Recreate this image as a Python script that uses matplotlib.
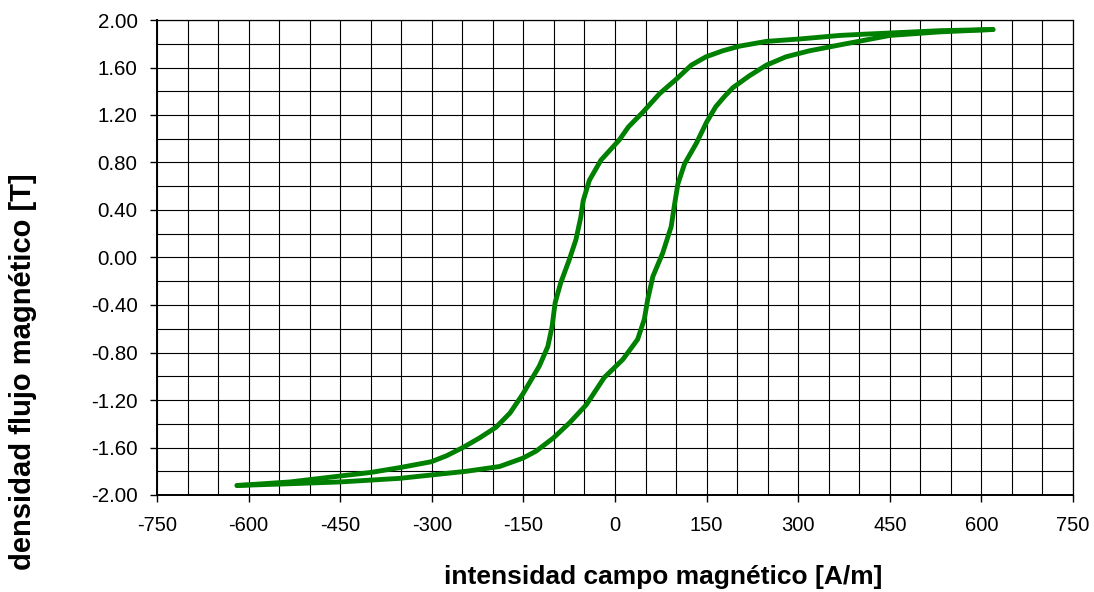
import numpy as np
import matplotlib.pyplot as plt
from matplotlib.ticker import MultipleLocator, FormatStrFormatter

# ===================== datos =====================
# rama descendente (curva izquierda), de +Bmax a -Bmax
H_desc = [619, 532, 406, 368, 302, 248, 204, 176, 149, 125, 100, 73, 45, 22,
          7, -23, -42, -52, -56, -64, -75, -89, -98, -103, -110, -124, -151,
          -172, -195, -222, -249, -276, -301, -353, -400, -450, -532, -619]
B_desc = [1.92, 1.91, 1.88, 1.87, 1.84, 1.82, 1.78, 1.74, 1.69, 1.62, 1.50,
          1.38, 1.22, 1.10, 0.99, 0.82, 0.65, 0.48, 0.34, 0.15, -0.02, -0.215,
          -0.38, -0.58, -0.75, -0.915, -1.15, -1.31, -1.43, -1.52, -1.60,
          -1.67, -1.72, -1.77, -1.81, -1.84, -1.89, -1.92]

# rama ascendente (curva derecha), de -Bmax a +Bmax
H_asc = [-619, -532, -450, -353, -298, -243, -189, -151, -129, -101, -74, -47,
         -17.5, 12.6, 37, 48, 53.5, 62, 78, 92, 97, 103, 114, 133, 150, 165,
         180, 193, 220, 248, 280, 318, 368, 450, 532, 619]
B_asc = [-1.92, -1.905, -1.89, -1.86, -1.83, -1.80, -1.76, -1.69, -1.63, -1.52,
         -1.39, -1.24, -1.01, -0.86, -0.69, -0.52, -0.355, -0.16, 0.036, 0.26,
         0.43, 0.62, 0.79, 0.96, 1.14, 1.27, 1.36, 1.43, 1.53, 1.62, 1.69,
         1.74, 1.79, 1.87, 1.90, 1.92]

X_LABEL = "intensidad campo magnético [A/m]"
Y_LABEL = "densidad flujo magnético [T]"

plt.rcParams['font.family'] = ['Liberation Sans', 'DejaVu Sans']
plt.rcParams['axes.unicode_minus'] = False

fig = plt.figure(figsize=(10.94, 5.92), dpi=100)
ax = fig.add_axes([157 / 1094, 97 / 592, (1073 - 157) / 1094, (495 - 20) / 592])

ax.plot(H_desc, B_desc, color='#008000', lw=3.5, solid_capstyle='round',
        solid_joinstyle='round', zorder=3)
ax.plot(H_asc, B_asc, color='#008000', lw=3.5, solid_capstyle='round',
        solid_joinstyle='round', zorder=3)

ax.set_xlim(-750, 750)
ax.set_ylim(-2.0, 2.0)
ax.xaxis.set_major_locator(MultipleLocator(150))
ax.xaxis.set_minor_locator(MultipleLocator(50))
ax.yaxis.set_major_locator(MultipleLocator(0.4))
ax.yaxis.set_minor_locator(MultipleLocator(0.2))
ax.yaxis.set_major_formatter(FormatStrFormatter('%.2f'))

ax.grid(which='both', color='black', lw=0.8)
ax.set_axisbelow(True)
for s in ax.spines.values():
    s.set_color('black')
    s.set_linewidth(0.9)
ax.spines['left'].set_linewidth(1.4)
ax.spines['bottom'].set_linewidth(1.4)

ax.tick_params(which='major', direction='out', length=5, width=1, color='black',
               top=False, right=False)
ax.tick_params(which='minor', length=0)
ax.tick_params(axis='y', pad=9, labelsize=14.8)
ax.tick_params(axis='x', pad=10, labelsize=14.5)

fig.text(663 / 1094, 1 - 577 / 592, X_LABEL, ha='center', va='center',
         fontsize=19, fontweight='bold')
fig.text(23 / 1094, 1 - 372 / 592, Y_LABEL, ha='center', va='center',
         rotation=90, fontsize=21, fontweight='bold')

fig.savefig("out.png", dpi=100)
